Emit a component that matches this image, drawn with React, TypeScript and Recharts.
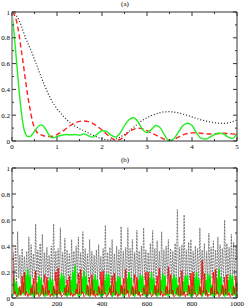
import React from 'react';
import { Line, LineChart, XAxis, YAxis } from 'recharts';

// panel (a): short-time decay, three curves
const tA = [
  0, 0.05, 0.1, 0.15, 0.2, 0.25, 0.3, 0.35, 0.4, 0.45, 0.5, 0.55, 0.6, 0.65, 0.7, 0.75, 0.8, 0.85, 0.9, 0.95, 1.0,
  1.1, 1.2, 1.3, 1.4, 1.5, 1.6, 1.7, 1.8, 1.9, 2.0,
  2.1, 2.2, 2.3, 2.4, 2.5, 2.6, 2.7, 2.8, 2.9, 3.0,
  3.1, 3.2, 3.3, 3.4, 3.5, 3.6, 3.7, 3.8, 3.9, 4.0,
  4.1, 4.2, 4.3, 4.4, 4.5, 4.6, 4.7, 4.8, 4.9, 5.0,
];
const blackA = [
  1, 0.99, 0.97, 0.94, 0.9, 0.85, 0.8, 0.76, 0.72, 0.68, 0.63, 0.59, 0.54, 0.495, 0.45, 0.41, 0.37, 0.335, 0.3, 0.275, 0.25,
  0.21, 0.17, 0.14, 0.115, 0.095, 0.08, 0.062, 0.045, 0.03, 0.018,
  0.01, 0.008, 0.015, 0.03, 0.05, 0.075, 0.105, 0.135, 0.16, 0.18,
  0.198, 0.21, 0.22, 0.226, 0.227, 0.224, 0.218, 0.208, 0.198, 0.187,
  0.175, 0.164, 0.155, 0.148, 0.142, 0.138, 0.137, 0.14, 0.15, 0.163,
];
const redA = [
  1, 0.98, 0.93, 0.84, 0.72, 0.6, 0.47, 0.35, 0.25, 0.16, 0.1, 0.07, 0.055, 0.047, 0.041, 0.037, 0.035, 0.035, 0.037, 0.042, 0.05,
  0.07, 0.095, 0.12, 0.14, 0.152, 0.155, 0.15, 0.135, 0.112, 0.085,
  0.055, 0.025, 0.008, 0.012, 0.04, 0.07, 0.09, 0.1, 0.095, 0.08,
  0.062, 0.045, 0.028, 0.013, 0.005, 0.012, 0.03, 0.048, 0.058, 0.063,
  0.064, 0.06, 0.056, 0.054, 0.055, 0.058, 0.06, 0.058, 0.055, 0.05,
];
const greenA = [
  1, 0.82, 0.62, 0.42, 0.25, 0.12, 0.055, 0.035, 0.035, 0.05, 0.075, 0.1, 0.118, 0.125, 0.115, 0.09, 0.06, 0.035, 0.025, 0.028, 0.035,
  0.045, 0.05, 0.048, 0.05, 0.045, 0.055, 0.04, 0.03, 0.055, 0.08,
  0.075, 0.045, 0.03, 0.06, 0.12, 0.165, 0.18, 0.15, 0.09, 0.065,
  0.09, 0.12, 0.1, 0.04, 0.003, 0.02, 0.07, 0.12, 0.138, 0.12,
  0.065, 0.022, 0.015, 0.03, 0.05, 0.06, 0.055, 0.03, 0.02, 0.06,
];

// panel (b): long-time behaviour, sampled every 5 units from 0 to 1000
const stepB = 5;
const blackB = [
  0.3, 0.35, 0.12, 0.4, 0.1, 0.51, 0.15, 0.33, 0.11, 0.38,
  0.14, 0.32, 0.1, 0.36, 0.13, 0.47, 0.12, 0.41, 0.15, 0.34,
  0.11, 0.57, 0.14, 0.37, 0.1, 0.42, 0.13, 0.49, 0.12, 0.35,
  0.15, 0.39, 0.11, 0.33, 0.14, 0.4, 0.12, 0.57, 0.13, 0.36,
  0.1, 0.38, 0.14, 0.54, 0.12, 0.35, 0.15, 0.46, 0.11, 0.37,
  0.13, 0.34, 0.1, 0.45, 0.14, 0.36, 0.12, 0.4, 0.15, 0.47,
  0.11, 0.35, 0.13, 0.51, 0.1, 0.38, 0.14, 0.34, 0.12, 0.45,
  0.15, 0.36, 0.11, 0.33, 0.13, 0.37, 0.12, 0.41, 0.14, 0.32,
  0.1, 0.38, 0.14, 0.56, 0.12, 0.35, 0.13, 0.39, 0.11, 0.45,
  0.14, 0.34, 0.1, 0.4, 0.13, 0.37, 0.12, 0.55, 0.15, 0.36,
  0.11, 0.39, 0.13, 0.54, 0.1, 0.38, 0.14, 0.45, 0.12, 0.35,
  0.15, 0.52, 0.11, 0.36, 0.13, 0.4, 0.12, 0.54, 0.14, 0.37,
  0.1, 0.35, 0.14, 0.42, 0.12, 0.52, 0.13, 0.38, 0.11, 0.44,
  0.14, 0.36, 0.1, 0.51, 0.13, 0.37, 0.12, 0.4, 0.15, 0.45,
  0.11, 0.38, 0.13, 0.36, 0.1, 0.42, 0.14, 0.68, 0.12, 0.39,
  0.15, 0.41, 0.11, 0.64, 0.13, 0.37, 0.12, 0.43, 0.14, 0.45,
  0.1, 0.36, 0.14, 0.4, 0.12, 0.38, 0.13, 0.54, 0.11, 0.37,
  0.14, 0.42, 0.1, 0.36, 0.13, 0.5, 0.12, 0.39, 0.15, 0.44,
  0.11, 0.37, 0.13, 0.47, 0.1, 0.41, 0.14, 0.38, 0.12, 0.6,
  0.15, 0.42, 0.11, 0.39, 0.13, 0.49, 0.12, 0.43, 0.14, 0.4,
  0.3,
];
const redB = [
  0.6, 0.22, 0.03, 0.05, 0.01, 0.02, 0.03, 0.09, 0.02, 0.17,
  0.04, 0.2, 0.02, 0.05, 0.01, 0.03, 0.02, 0.08, 0.03, 0.15,
  0.02, 0.21, 0.03, 0.04, 0.01, 0.02, 0.03, 0.1, 0.02, 0.18,
  0.03, 0.16, 0.02, 0.06, 0.01, 0.03, 0.02, 0.09, 0.03, 0.2,
  0.02, 0.23, 0.03, 0.05, 0.01, 0.02, 0.03, 0.08, 0.02, 0.14,
  0.04, 0.17, 0.02, 0.04, 0.01, 0.03, 0.02, 0.07, 0.03, 0.19,
  0.03, 0.22, 0.03, 0.05, 0.01, 0.02, 0.03, 0.1, 0.02, 0.16,
  0.02, 0.18, 0.02, 0.06, 0.01, 0.03, 0.02, 0.09, 0.03, 0.2,
  0.03, 0.21, 0.03, 0.04, 0.01, 0.02, 0.03, 0.08, 0.02, 0.17,
  0.04, 0.19, 0.02, 0.05, 0.01, 0.03, 0.02, 0.1, 0.03, 0.15,
  0.02, 0.22, 0.03, 0.06, 0.01, 0.02, 0.03, 0.09, 0.02, 0.18,
  0.03, 0.16, 0.02, 0.05, 0.01, 0.03, 0.02, 0.08, 0.03, 0.2,
  0.02, 0.2, 0.03, 0.04, 0.01, 0.02, 0.03, 0.1, 0.02, 0.17,
  0.04, 0.23, 0.02, 0.05, 0.01, 0.03, 0.02, 0.09, 0.03, 0.24,
  0.03, 0.18, 0.03, 0.06, 0.01, 0.02, 0.03, 0.08, 0.02, 0.16,
  0.02, 0.21, 0.02, 0.05, 0.01, 0.03, 0.02, 0.1, 0.03, 0.19,
  0.03, 0.2, 0.03, 0.04, 0.01, 0.02, 0.03, 0.09, 0.02, 0.29,
  0.04, 0.19, 0.02, 0.06, 0.01, 0.03, 0.02, 0.08, 0.03, 0.2,
  0.02, 0.22, 0.03, 0.05, 0.01, 0.02, 0.03, 0.1, 0.02, 0.16,
  0.03, 0.18, 0.02, 0.04, 0.01, 0.03, 0.02, 0.09, 0.03, 0.17,
  0.05,
];
const greenB = [
  0.14, 0.02, 0.15, 0.03, 0.12, 0.01, 0.08, 0.02, 0.06, 0.03,
  0.12, 0.02, 0.18, 0.04, 0.22, 0.03, 0.17, 0.02, 0.1, 0.01,
  0.05, 0.02, 0.12, 0.03, 0.17, 0.02, 0.15, 0.03, 0.08, 0.01,
  0.05, 0.02, 0.13, 0.04, 0.16, 0.02, 0.14, 0.01, 0.07, 0.02,
  0.06, 0.03, 0.15, 0.02, 0.19, 0.04, 0.17, 0.02, 0.1, 0.01,
  0.06, 0.02, 0.14, 0.03, 0.2, 0.02, 0.25, 0.03, 0.11, 0.01,
  0.05, 0.02, 0.16, 0.04, 0.21, 0.03, 0.17, 0.02, 0.09, 0.01,
  0.07, 0.03, 0.15, 0.02, 0.18, 0.03, 0.14, 0.02, 0.08, 0.01,
  0.06, 0.02, 0.14, 0.03, 0.19, 0.02, 0.18, 0.04, 0.1, 0.01,
  0.05, 0.02, 0.13, 0.03, 0.17, 0.02, 0.16, 0.03, 0.09, 0.01,
  0.07, 0.02, 0.15, 0.04, 0.2, 0.03, 0.16, 0.02, 0.08, 0.01,
  0.06, 0.03, 0.14, 0.02, 0.18, 0.04, 0.17, 0.02, 0.1, 0.01,
  0.05, 0.02, 0.16, 0.03, 0.2, 0.02, 0.15, 0.03, 0.09, 0.01,
  0.07, 0.02, 0.14, 0.04, 0.19, 0.03, 0.17, 0.02, 0.08, 0.01,
  0.06, 0.03, 0.15, 0.02, 0.18, 0.03, 0.16, 0.02, 0.1, 0.01,
  0.05, 0.02, 0.13, 0.03, 0.17, 0.04, 0.18, 0.02, 0.09, 0.01,
  0.07, 0.02, 0.16, 0.03, 0.2, 0.02, 0.15, 0.03, 0.08, 0.01,
  0.06, 0.03, 0.14, 0.02, 0.19, 0.04, 0.17, 0.02, 0.1, 0.01,
  0.05, 0.02, 0.15, 0.03, 0.22, 0.02, 0.16, 0.03, 0.09, 0.01,
  0.07, 0.02, 0.14, 0.04, 0.18, 0.03, 0.17, 0.02, 0.08, 0.01,
  0.12,
];

// axis ticks
const xTicksA = [0, 0.5, 1, 1.5, 2, 2.5, 3, 3.5, 4, 4.5, 5];
const xLabelsA = [0, 1, 2, 3, 4, 5];
const xTicksB = [0, 100, 200, 300, 400, 500, 600, 700, 800, 900, 1000];
const xLabelsB = [0, 200, 400, 600, 800, 1000];
const yTicks = [0, 0.1, 0.2, 0.3, 0.4, 0.5, 0.6, 0.7, 0.8, 0.9, 1];
const yLabels = [0, 0.2, 0.4, 0.6, 0.8, 1];

const dataA = tA.map((t, i) => ({ t, black: blackA[i], red: redA[i], green: greenA[i] }));
const dataB = blackB.map((b, i) => ({ t: i * stepB, black: b, red: redB[i], green: greenB[i] }));

const FONT = '"Liberation Serif", "DejaVu Serif", serif';
const INK = '#333';

type Side = 'bottom' | 'left' | 'top' | 'right';

// inward tick marks, labels only on bottom/left
function makeTick(side: Side, majors: number[], showLabels: boolean) {
  return (props: any) => {
    const { x, y, payload } = props;
    const v = payload.value as number;
    const major = majors.some((m) => Math.abs(m - v) < 1e-6);
    const len = major ? 4 : 2;
    let x2 = x;
    let y2 = y;
    if (side === 'bottom') y2 = y - len;
    if (side === 'top') y2 = y + len;
    if (side === 'left') x2 = x + len;
    if (side === 'right') x2 = x - len;
    let label = null;
    if (showLabels && major) {
      if (side === 'bottom') {
        label = (
          <text x={x} y={y + 8} textAnchor="middle" fontSize={7} fontFamily={FONT} fill="#000">
            {String(v)}
          </text>
        );
      } else if (side === 'left') {
        label = (
          <text x={x - 2} y={y + 2.5} textAnchor="end" fontSize={7} fontFamily={FONT} fill="#000">
            {String(v)}
          </text>
        );
      }
    }
    return (
      <g>
        <line x1={x} y1={y} x2={x2} y2={y2} stroke={INK} strokeWidth={1} />
        {label}
      </g>
    );
  };
}

function axes(xTicks: number[], xLabels: number[], xMax: number) {
  return [
    <XAxis
      key="xb"
      xAxisId="bottom"
      dataKey="t"
      type="number"
      domain={[0, xMax]}
      ticks={xTicks}
      interval={0}
      height={1}
      tickSize={0}
      tickMargin={0}
      tickLine={false}
      axisLine={{ stroke: INK, strokeWidth: 1 }}
      tick={makeTick('bottom', xLabels, true)}
    />,
    <XAxis
      key="xt"
      xAxisId="top"
      orientation="top"
      dataKey="t"
      type="number"
      domain={[0, xMax]}
      ticks={xTicks}
      interval={0}
      height={1}
      tickSize={0}
      tickMargin={0}
      tickLine={false}
      axisLine={{ stroke: INK, strokeWidth: 1 }}
      tick={makeTick('top', xLabels, false)}
    />,
    <YAxis
      key="yl"
      yAxisId="left"
      type="number"
      domain={[0, 1]}
      ticks={yTicks}
      interval={0}
      width={1}
      tickSize={0}
      tickMargin={0}
      tickLine={false}
      axisLine={{ stroke: '#a8a8a8', strokeWidth: 2 }}
      tick={makeTick('left', yLabels, true)}
    />,
    <YAxis
      key="yr"
      yAxisId="right"
      orientation="right"
      type="number"
      domain={[0, 1]}
      ticks={yTicks}
      interval={0}
      width={1}
      tickSize={0}
      tickMargin={0}
      tickLine={false}
      axisLine={{ stroke: INK, strokeWidth: 1 }}
      tick={makeTick('right', yLabels, false)}
    />,
  ];
}

const titleStyle: React.CSSProperties = {
  position: 'absolute',
  left: 105,
  width: 40,
  textAlign: 'center',
  fontFamily: FONT,
  fontSize: 7,
  lineHeight: '8px',
  color: '#000',
};

export default function App() {
  return (
    <div
      style={{
        position: 'absolute',
        left: 0,
        top: 0,
        width: 244,
        height: 307,
        background: '#fff',
        overflow: 'hidden',
      }}
    >
      <div style={{ ...titleStyle, top: 0 }}>(a)</div>
      <div style={{ ...titleStyle, top: 156 }}>(b)</div>

      <div style={{ position: 'absolute', left: 0, top: 0 }}>
        <LineChart width={244} height={152} data={dataA} margin={{ top: 11, right: 6, bottom: 10, left: 11 }}>
          {axes(xTicksA, xLabelsA, 5)}
          <Line xAxisId="top" yAxisId="right" dataKey="black" stroke="none" dot={false} isAnimationActive={false} />
          <Line
            xAxisId="bottom"
            yAxisId="left"
            type="monotone"
            dataKey="black"
            stroke="#222"
            strokeWidth={1.2}
            strokeDasharray="1 2"
            dot={false}
            isAnimationActive={false}
          />
          <Line
            xAxisId="bottom"
            yAxisId="left"
            type="monotone"
            dataKey="red"
            stroke="#ff2020"
            strokeWidth={1.4}
            strokeDasharray="5 3"
            dot={false}
            isAnimationActive={false}
          />
          <Line
            xAxisId="bottom"
            yAxisId="left"
            type="monotone"
            dataKey="green"
            stroke="#22ee22"
            strokeWidth={1.4}
            dot={false}
            isAnimationActive={false}
          />
        </LineChart>
      </div>

      <div style={{ position: 'absolute', left: 0, top: 152 }}>
        <LineChart width={244} height={155} data={dataB} margin={{ top: 15, right: 6, bottom: 8, left: 11 }}>
          {axes(xTicksB, xLabelsB, 1000)}
          <Line xAxisId="top" yAxisId="right" dataKey="black" stroke="none" dot={false} isAnimationActive={false} />
          <Line
            xAxisId="bottom"
            yAxisId="left"
            type="linear"
            dataKey="black"
            stroke="#666"
            strokeWidth={0.8}
            strokeDasharray="2 1"
            dot={false}
            isAnimationActive={false}
          />
          <Line
            xAxisId="bottom"
            yAxisId="left"
            type="linear"
            dataKey="green"
            stroke="#00ee00"
            strokeWidth={1.7}
            dot={false}
            isAnimationActive={false}
          />
          <Line
            xAxisId="bottom"
            yAxisId="left"
            type="linear"
            dataKey="red"
            stroke="#ff0000"
            strokeWidth={0.9}
            dot={false}
            isAnimationActive={false}
          />
        </LineChart>
      </div>
    </div>
  );
}
